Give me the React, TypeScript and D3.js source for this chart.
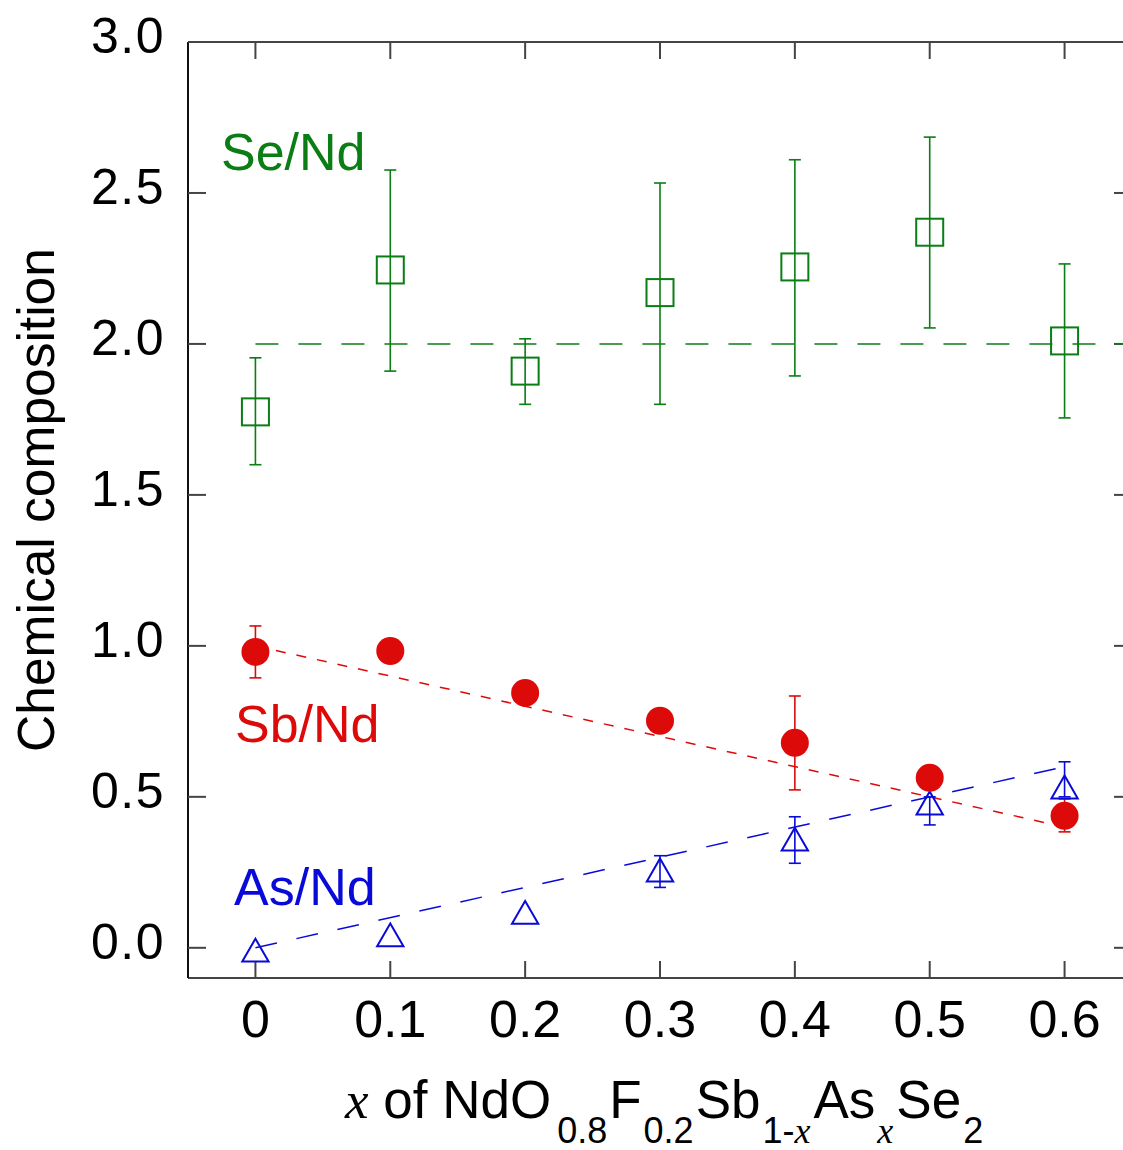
import React from "react";
import * as d3 from "d3";

const xs = [0, 0.1, 0.2, 0.3, 0.4, 0.5, 0.6];
const seNd = [1.775, 2.245, 1.91, 2.17, 2.255, 2.37, 2.01];
const seLo = [1.6, 1.91, 1.8, 1.8, 1.894, 2.053, 1.755];
const seHi = [1.954, 2.576, 2.017, 2.533, 2.61, 2.685, 2.265];
const sbNd = [0.98, 0.983, 0.844, 0.752, 0.679, 0.563, 0.437];
const sbLo = [0.894, null, null, null, 0.523, null, 0.384];
const sbHi = [1.066, null, null, null, 0.834, null, 0.493];
const asNd = [-0.01, 0.04, 0.115, 0.255, 0.357, 0.477, 0.53];
const asLo = [null, null, null, 0.2, 0.28, 0.407, 0.5];
const asHi = [null, null, null, 0.305, 0.434, 0.5, 0.616];
const xTicks = [0, 0.1, 0.2, 0.3, 0.4, 0.5, 0.6];
const yTicks = [0, 0.5, 1.0, 1.5, 2.0, 2.5, 3.0];
const seLine = [[0, 2.0], [0.65, 2.0]];
const sbLine = [[0, 1.0], [0.6, 0.4]];
const asLine = [[0, 0.0], [0.6, 0.6]];

const GREEN = "#0a7d14";
const RED = "#dd0a0a";
const BLUE = "#0a0ad8";
const FONT = "'Liberation Sans', Arial, sans-serif";
const SERIF = "'Liberation Serif', 'Times New Roman', serif";

export default function App() {
  const W = 1123, H = 1150;
  const L = 188, R = 1132, T = 42, B = 978;
  const x = d3.scaleLinear().domain([-0.05, 0.65]).range([L, R]);
  const y = d3.scaleLinear().domain([-0.1, 3.0]).range([B, T]);
  const line = d3.line<number[]>().x((d) => x(d[0])).y((d) => y(d[1]));
  const tri = d3.symbol().type(d3.symbolTriangle).size(300)();

  const errBars = (lo: (number | null)[], hi: (number | null)[], color: string) =>
    xs.map((xv, i) => {
      const l = lo[i], h = hi[i];
      if (l == null || h == null) return null;
      const cx = x(xv);
      return (
        <g key={i} stroke={color} strokeWidth={1.6}>
          <line x1={cx} x2={cx} y1={y(l)} y2={y(h)} />
          <line x1={cx - 6} x2={cx + 6} y1={y(l)} y2={y(l)} />
          <line x1={cx - 6} x2={cx + 6} y1={y(h)} y2={y(h)} />
        </g>
      );
    });

  const sub = 36;
  const main = 53;
  const dy = 25;
  return (
    <div style={{ position: "absolute", left: 0, top: 0 }}>
      <svg width={W} height={H} style={{ display: "block", background: "#fff" }}>
        <rect x={0} y={0} width={W} height={H} fill="#fff" />
        {/* frame */}
        <g stroke="#444" strokeWidth={2} fill="none">
          <line x1={L} x2={R} y1={T} y2={T} />
          <line x1={L} x2={R} y1={B} y2={B} />
          <line x1={L} x2={L} y1={T} y2={B} stroke="#111" />
          <line x1={R} x2={R} y1={T} y2={B} />
          {xTicks.map((t) => (
            <g key={"xt" + t}>
              <line x1={x(t)} x2={x(t)} y1={T} y2={T + 17} />
              <line x1={x(t)} x2={x(t)} y1={B} y2={B - 17} />
            </g>
          ))}
          {yTicks.map((t) => (
            <g key={"yt" + t}>
              <line x1={L} x2={L + 18} y1={y(t)} y2={y(t)} />
              <line x1={R} x2={R - 18} y1={y(t)} y2={y(t)} />
            </g>
          ))}
        </g>
        {/* tick labels */}
        <g fontFamily={FONT} fill="#000">
          {xTicks.map((t) => (
            <text key={"xl" + t} x={x(t)} y={1037} textAnchor="middle" fontSize={52}>
              {t === 0 ? "0" : d3.format(".1f")(t)}
            </text>
          ))}
          {yTicks.map((t) => (
            <text key={"yl" + t} x={165} y={y(t) + 11} textAnchor="end" fontSize={50} letterSpacing={1.5}>
              {d3.format(".1f")(t)}
            </text>
          ))}
        </g>
        {/* axis titles */}
        <text
          transform={`translate(54, 500) rotate(-90)`}
          textAnchor="middle"
          fontFamily={FONT}
          fontSize={51.5}
          fill="#000"
        >
          Chemical composition
        </text>
        <text x={345} y={1118} fontFamily={FONT} fontSize={main} fill="#000">
          <tspan fontFamily={SERIF} fontStyle="italic">x</tspan>
          <tspan> of NdO</tspan>
          <tspan fontSize={sub} dy={dy} dx={6}>0.8</tspan>
          <tspan dy={-dy} dx={2}>F</tspan>
          <tspan fontSize={sub} dy={dy} dx={2}>0.2</tspan>
          <tspan dy={-dy} dx={2}>Sb</tspan>
          <tspan fontSize={sub} dy={dy} dx={2}>1-</tspan>
          <tspan fontSize={sub} fontFamily={SERIF} fontStyle="italic">x</tspan>
          <tspan dy={-dy} dx={3}>As</tspan>
          <tspan fontSize={sub} dy={dy} dx={2} fontFamily={SERIF} fontStyle="italic">x</tspan>
          <tspan dy={-dy} dx={3}>Se</tspan>
          <tspan fontSize={sub} dy={dy} dx={2}>2</tspan>
        </text>
        {/* fit lines */}
        <defs>
          <clipPath id="plotclip">
            <rect x={L} y={T} width={R - L} height={B - T} />
          </clipPath>
        </defs>
        <g clipPath="url(#plotclip)" fill="none">
          <path d={line(seLine as any) || ""} stroke={GREEN} strokeWidth={1.5} strokeDasharray="23 20" />
          <path d={line(sbLine as any) || ""} stroke={RED} strokeWidth={1.5} strokeDasharray="10 11" />
          <path d={line(asLine as any) || ""} stroke={BLUE} strokeWidth={1.5} strokeDasharray="22 20" />
        </g>
        {/* error bars */}
        {errBars(seLo, seHi, GREEN)}
        {errBars(sbLo, sbHi, RED)}
        {errBars(asLo, asHi, BLUE)}
        {/* markers */}
        {xs.map((xv, i) => (
          <rect
            key={"se" + i}
            x={x(xv) - 13.5}
            y={y(seNd[i]) - 13.5}
            width={27}
            height={27}
            fill="none"
            stroke={GREEN}
            strokeWidth={2}
          />
        ))}
        {xs.map((xv, i) => (
          <path
            key={"as" + i}
            d={tri || ""}
            transform={`translate(${x(xv)}, ${y(asNd[i]) + 3})`}
            fill="none"
            stroke={BLUE}
            strokeWidth={2}
          />
        ))}
        {xs.map((xv, i) => (
          <circle key={"sb" + i} cx={x(xv)} cy={y(sbNd[i])} r={14} fill={RED} />
        ))}
        {/* series labels */}
        <g fontFamily={FONT} fontSize={52}>
          <text x={221} y={170} fill={GREEN}>Se/Nd</text>
          <text x={235} y={742} fill={RED}>Sb/Nd</text>
          <text x={234} y={905} fill={BLUE}>As/Nd</text>
        </g>
      </svg>
    </div>
  );
}
